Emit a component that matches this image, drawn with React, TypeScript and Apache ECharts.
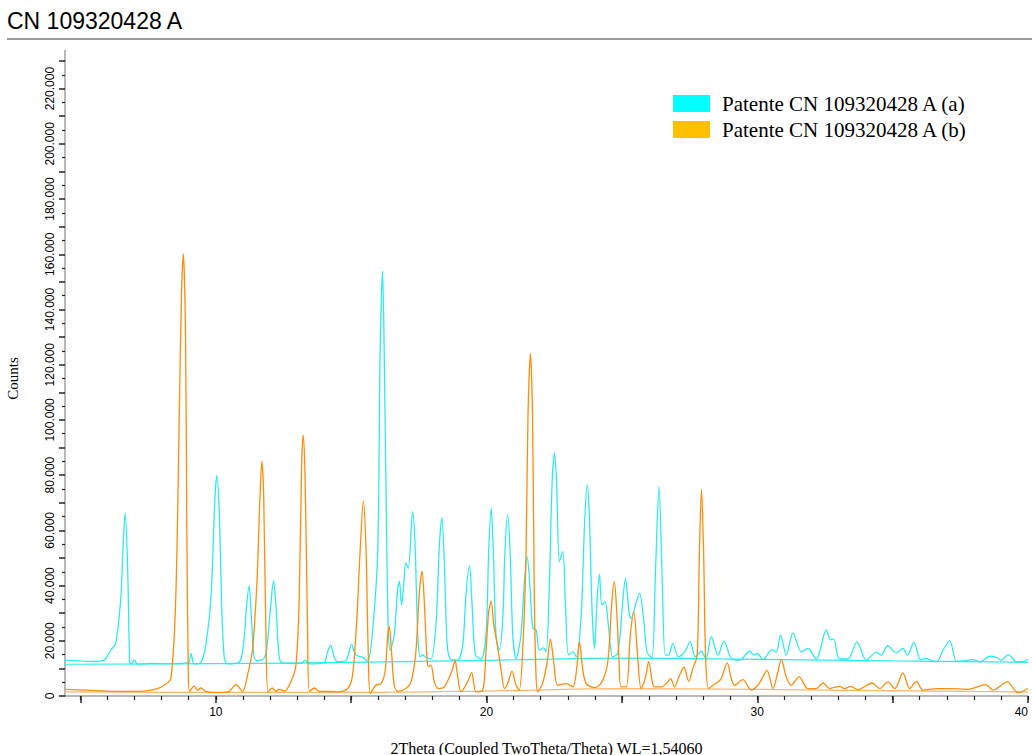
import React, { useEffect, useRef } from "react";
import * as echarts from "echarts";

// 2Theta (deg), counts — pattern (a), cyan
const patternA: [number, number][] = [
  [4.43,13000],[5.0,12700],[5.5,12500],[5.87,13000],[6.12,16600],[6.30,19000],[6.49,35400],[6.58,55000],[6.65,66300],[6.74,47600],[6.82,12400],[6.88,11500],[6.99,13000],[7.11,11500],[7.6,11800],[8.3,11700],[8.98,12000],[9.08,15400],[9.2,11600],[9.45,12200],[9.63,18400],[9.82,35400],[9.97,72000],[10.04,79900],[10.13,65700],[10.21,35400],[10.31,14200],[10.44,11600],[10.86,12200],[11.02,18400],[11.14,33000],[11.23,39900],[11.31,29300],[11.41,14200],[11.51,12800],[11.66,13000],[11.78,13600],[11.88,17000],[12.03,33000],[12.13,41700],[12.22,33000],[12.34,14200],[12.47,11800],[13.14,11800],[13.3,13000],[13.45,11600],[14.0,12200],[14.12,15800],[14.25,18300],[14.37,14200],[14.50,12400],[14.81,12900],[15.02,18700],[15.17,14900],[15.42,14000],[15.61,12600],[15.79,23300],[15.98,52400],[16.07,125000],[16.16,153900],[16.22,125000],[16.30,64500],[16.37,24500],[16.44,16600],[16.59,22000],[16.72,39000],[16.78,41500],[16.86,33000],[16.94,40200],[17.02,48100],[17.11,46200],[17.27,66900],[17.36,54800],[17.46,22000],[17.55,14200],[17.64,14900],[17.76,14000],[17.95,13400],[18.13,25700],[18.26,54800],[18.35,64500],[18.44,48700],[18.54,19600],[18.66,13400],[18.93,13000],[19.12,18400],[19.24,36600],[19.37,47200],[19.46,34200],[19.59,14900],[19.80,13400],[19.98,22000],[20.08,52400],[20.17,68100],[20.25,52400],[20.35,22000],[20.47,16600],[20.60,28100],[20.68,52400],[20.78,65700],[20.87,52400],[20.97,22000],[21.09,13600],[21.27,22000],[21.40,41500],[21.50,50500],[21.60,40200],[21.71,24500],[21.83,23900],[21.95,16600],[22.10,17400],[22.20,16000],[22.32,40200],[22.42,76600],[22.51,88100],[22.59,76600],[22.69,48700],[22.82,52400],[22.91,34200],[23.03,14900],[23.19,16000],[23.31,14200],[23.49,28100],[23.62,62100],[23.72,76600],[23.80,64500],[23.90,30500],[23.99,17200],[24.08,34200],[24.17,44100],[24.26,33000],[24.38,34200],[24.50,25700],[24.66,14200],[24.85,15400],[25.01,31800],[25.13,42700],[25.26,30500],[25.34,28100],[25.50,33000],[25.65,37200],[25.81,26900],[25.93,15900],[26.11,13800],[26.24,45100],[26.37,75800],[26.48,45100],[26.60,14800],[26.72,14800],[26.88,19000],[27.09,14200],[27.31,15900],[27.52,19600],[27.71,14200],[27.93,16200],[28.11,13400],[28.30,21500],[28.55,14800],[28.77,19900],[29.04,13600],[29.35,13000],[29.72,16200],[29.88,14800],[30.00,15400],[30.21,13200],[30.55,16800],[30.70,15900],[30.86,22000],[31.07,14800],[31.32,22900],[31.63,15900],[31.87,17200],[32.18,13400],[32.55,23900],[32.71,20300],[32.82,20600],[33.04,13400],[33.35,13400],[33.68,19600],[34.03,13000],[34.40,15900],[34.58,14800],[34.81,18200],[35.14,15600],[35.38,17200],[35.55,14800],[35.78,19400],[36.04,13000],[36.19,13600],[36.62,12400],[36.86,16600],[37.11,20000],[37.36,12600],[37.66,12800],[37.97,13200],[38.22,12400],[38.59,14400],[38.83,14000],[39.02,13000],[39.27,15000],[39.58,12400],[39.88,12600],[40.0,13400]
];

// pattern (b), orange
const patternB: [number, number][] = [
  [4.43,2400],[5.26,2100],[6.24,1700],[7.23,1700],[7.84,2700],[8.09,3900],[8.34,6300],[8.52,35400],[8.64,96000],[8.73,144500],[8.80,160200],[8.88,132400],[8.93,59900],[8.98,11500],[9.03,1700],[9.20,3600],[9.32,2100],[9.45,2900],[9.63,1700],[10.06,1200],[10.49,1700],[10.74,4100],[10.99,1700],[11.17,7500],[11.36,17200],[11.52,41500],[11.63,71800],[11.70,85100],[11.77,71800],[11.85,23300],[11.93,1500],[12.09,2900],[12.22,1700],[12.34,2400],[12.53,1700],[12.77,5100],[12.96,11100],[13.08,35400],[13.17,83900],[13.23,94500],[13.30,77900],[13.39,23300],[13.46,1700],[13.64,2900],[13.82,1700],[14.25,1700],[14.50,1500],[14.87,2700],[15.05,7500],[15.21,28100],[15.33,52400],[15.45,70800],[15.55,52400],[15.63,16000],[15.71,900],[15.91,3900],[16.10,4500],[16.25,8700],[16.35,22000],[16.41,25100],[16.49,16000],[16.59,3900],[16.72,1700],[17.02,2700],[17.21,5100],[17.39,16000],[17.52,37800],[17.62,45100],[17.70,34200],[17.80,13600],[17.86,10600],[17.95,11200],[18.07,5100],[18.22,2700],[18.44,3300],[18.63,6900],[18.75,9900],[18.84,13000],[18.91,8700],[19.06,1500],[19.30,5100],[19.45,8500],[19.61,1500],[19.86,2100],[19.98,16000],[20.08,30500],[20.17,34400],[20.27,25700],[20.38,19600],[20.54,9300],[20.66,2700],[20.78,4500],[20.94,9000],[21.09,3900],[21.21,2100],[21.36,22000],[21.46,52400],[21.53,100800],[21.62,124100],[21.70,100800],[21.76,40200],[21.82,9900],[21.89,1500],[22.07,4500],[22.24,12400],[22.36,20600],[22.48,12400],[22.63,3900],[22.94,4500],[23.19,3300],[23.33,9900],[23.43,19600],[23.55,9900],[23.68,4500],[23.99,3000],[24.26,5100],[24.48,12400],[24.63,34200],[24.72,41500],[24.81,30500],[24.89,13600],[24.97,3300],[25.16,3300],[25.31,22000],[25.44,30500],[25.56,17100],[25.71,2700],[25.86,6300],[25.99,12400],[26.12,5100],[26.20,3300],[26.45,3300],[26.64,4500],[26.80,6300],[26.94,3300],[27.13,7500],[27.29,10500],[27.47,5300],[27.62,9900],[27.78,14800],[27.86,51200],[27.94,74800],[28.02,51200],[28.09,14800],[28.20,2700],[28.40,4100],[28.55,5100],[28.67,6300],[28.89,12000],[29.04,6300],[29.16,3900],[29.47,5900],[29.78,2100],[30.02,3900],[30.21,6900],[30.36,9300],[30.58,2700],[30.76,8700],[30.89,13300],[31.07,6900],[31.26,3900],[31.54,6900],[31.87,2700],[32.18,2700],[32.43,4700],[32.67,2700],[33.04,3500],[33.23,2700],[33.45,3500],[33.72,2300],[34.24,4700],[34.52,2700],[34.83,5100],[35.08,2700],[35.38,8400],[35.63,2700],[35.88,5300],[36.12,2100],[36.62,2700],[37.11,2700],[37.79,2400],[38.44,4100],[38.71,2100],[39.23,5100],[39.64,1200],[40.0,2700]
];

// fitted backgrounds
const backgroundA: [number, number][] = [
  [4.43,11500],[10,11700],[15,12200],[20,12900],[25,13700],[30,13300],[35,12700],[40,12200]
];
const backgroundB: [number, number][] = [
  [4.43,1500],[10,1300],[15,1300],[20,1800],[25,2700],[30,2400],[35,1900],[40,1500]
];

const seriesNames = ["Patente CN 109320428 A (a)", "Patente CN 109320428 A (b)"];
const xMajorTicks = [5, 10, 15, 20, 25, 30, 35, 40];
const xMinorTicks = [5, 6, 7, 8, 9, 10, 11, 12, 13, 14, 15, 16, 17, 18, 19, 20, 21, 22, 23, 24, 25, 26, 27, 28, 29, 30, 31, 32, 33, 34, 35, 36, 37, 38, 39, 40];
const xLabels = [10, 20, 30, 40];
const title = "CN 109320428 A";
const xName = "2Theta (Coupled TwoTheta/Theta) WL=1,54060";
const yName = "Counts";

const fmt = (v: number) =>
  v % 20000 === 0 ? String(v).replace(/\B(?=(\d{3})+(?!\d))/g, ".") : "";

export default function App() {
  const ref = useRef<HTMLDivElement>(null);
  useEffect(() => {
    if (!ref.current) return;
    const chart = echarts.init(ref.current, null, { renderer: "svg" });
    const cyan = "#2CEBF0";
    const orange = "#FF8C0A";
    const serif = "Liberation Serif";
    const sans = "Liberation Sans";
    chart.setOption({
      animation: false,
      backgroundColor: "#ffffff",
      grid: { left: 65, right: 4, top: 61, bottom: 59, containLabel: false, outerBoundsMode: "none" },
      xAxis: [
        {
          type: "value",
          min: 4.43,
          max: 40,
          position: "bottom",
          axisLine: { show: true, lineStyle: { color: "#a0a0a0", width: 1.5 } },
          axisTick: { show: true, customValues: xMajorTicks, length: 7, lineStyle: { color: "#222", width: 1.5 } },
          axisLabel: { customValues: xLabels, fontSize: 12, color: "#000", fontFamily: sans, margin: 10, alignMaxLabel: "right" },
          splitLine: { show: false },
          name: xName,
          nameLocation: "middle",
          nameGap: 44,
          nameTextStyle: { fontFamily: serif, fontSize: 16, color: "#000" },
        },
        {
          type: "value",
          min: 4.43,
          max: 40,
          position: "bottom",
          axisLine: { show: false },
          axisTick: { show: true, customValues: xMinorTicks, length: 4, lineStyle: { color: "#222", width: 1.2 } },
          axisLabel: { show: false },
          splitLine: { show: false },
        },
      ],
      yAxis: {
        type: "value",
        min: 0,
        max: 230000,
        interval: 10000,
        axisLine: { show: true, lineStyle: { color: "#a0a0a0", width: 1.5 } },
        axisTick: { show: true, length: 6, lineStyle: { color: "#222", width: 1.5 } },
        minorTick: { show: true, splitNumber: 2, length: 3, lineStyle: { color: "#222", width: 1.2 } },
        axisLabel: { rotate: 90, formatter: fmt, fontSize: 12, color: "#000", fontFamily: sans, margin: 9 },
        splitLine: { show: false },
        minorSplitLine: { show: false },
        name: yName,
        nameLocation: "middle",
        nameGap: 45,
        nameRotate: 90,
        nameTextStyle: { fontFamily: serif, fontSize: 15, color: "#000" },
      },
      series: [
        {
          name: seriesNames[0] + " bg",
          type: "line",
          data: backgroundA,
          showSymbol: false,
          symbol: "none",
          smooth: 0.4,
          lineStyle: { color: cyan, width: 1.2 },
          silent: true,
        },
        {
          name: seriesNames[0],
          type: "line",
          data: patternA,
          showSymbol: false,
          symbol: "none",
          smooth: 0.3,
          lineStyle: { color: cyan, width: 1.3 },
        },
        {
          name: seriesNames[1] + " bg",
          type: "line",
          data: backgroundB,
          showSymbol: false,
          symbol: "none",
          smooth: 0.4,
          lineStyle: { color: "#FFB870", width: 1.3 },
          silent: true,
        },
        {
          name: seriesNames[1],
          type: "line",
          data: patternB,
          showSymbol: false,
          symbol: "none",
          smooth: 0.3,
          lineStyle: { color: orange, width: 1.3 },
        },
      ],
      graphic: [
        {
          type: "text",
          left: 7,
          top: 9,
          style: { text: title, font: `23px ${sans}`, fill: "#000" },
        },
        {
          type: "line",
          shape: { x1: 7, y1: 39, x2: 1032, y2: 39 },
          style: { stroke: "#7a7a7a", lineWidth: 1.5 },
        },
        {
          type: "line",
          shape: { x1: 65, y1: 50, x2: 65, y2: 62 },
          style: { stroke: "#a0a0a0", lineWidth: 1.5 },
        },
        {
          type: "rect",
          shape: { x: 673, y: 95, width: 37, height: 17 },
          style: { fill: "#00FFFF" },
        },
        {
          type: "rect",
          shape: { x: 673, y: 121, width: 37, height: 17 },
          style: { fill: "#FFC000" },
        },
        {
          type: "text",
          x: 722,
          y: 104,
          style: { text: seriesNames[0], font: `21px ${serif}`, fill: "#000", verticalAlign: "middle" },
        },
        {
          type: "text",
          x: 722,
          y: 130,
          style: { text: seriesNames[1], font: `21px ${serif}`, fill: "#000", verticalAlign: "middle" },
        },
      ],
    });
    return () => chart.dispose();
  }, []);
  return (
    <div
      ref={ref}
      style={{ position: "absolute", left: 0, top: 0, width: 1032, height: 755 }}
    />
  );
}
